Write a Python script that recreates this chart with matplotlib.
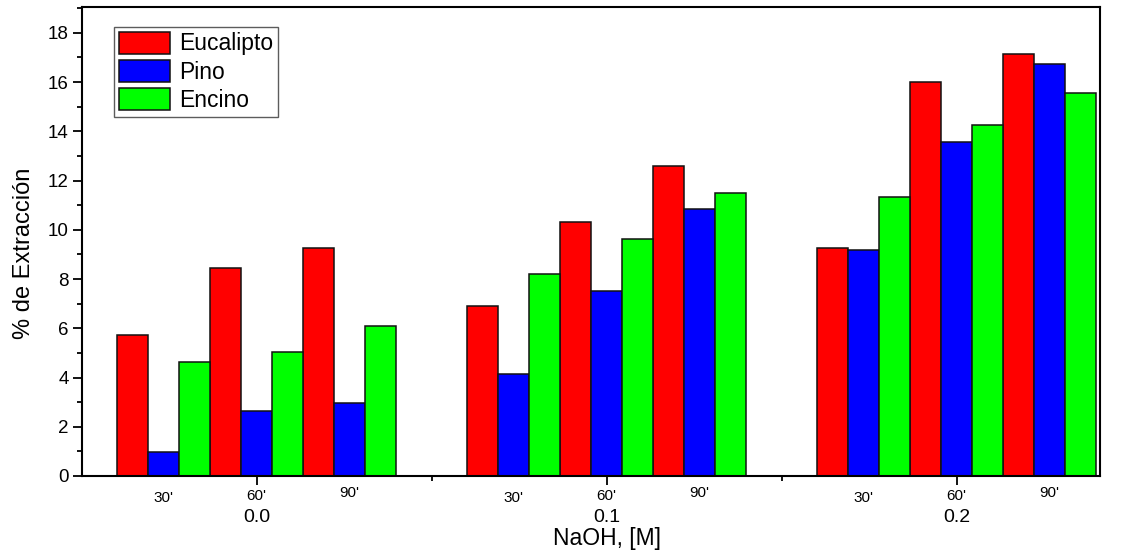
import numpy as np
import matplotlib.pyplot as plt
from matplotlib.ticker import MultipleLocator, FixedLocator

plt.rcParams['font.family'] = ['Liberation Sans', 'DejaVu Sans']

# data
naoh = ['0.0', '0.1', '0.2']
times = ["30'", "60'", "90'"]
species = ['Eucalipto', 'Pino', 'Encino']
colors = ['#ff0000', '#0000ff', '#00ff00']

# rows = NaOH concentration, columns = time (30', 60', 90')
eucalipto = [[5.73, 8.43, 9.26],
             [6.91, 10.30, 12.60],
             [9.28, 16.00, 17.13]]
pino = [[0.98, 2.62, 2.97],
        [4.16, 7.52, 10.85],
        [9.18, 13.57, 16.72]]
encino = [[4.63, 5.04, 6.10],
          [8.19, 9.64, 11.48],
          [11.32, 14.26, 15.57]]

fig = plt.figure(figsize=(11.37, 5.52), dpi=100)
ax = fig.add_axes([82 / 1137, 76 / 552, 1018 / 1137, 469 / 552])

w = 31 / 350  # bar width in group units
series = [eucalipto, pino, encino]
for s, (vals, name, col) in enumerate(zip(series, species, colors)):
    vals = np.array(vals)
    xs, hs = [], []
    for g in range(len(naoh)):
        for t in range(len(times)):
            k = t * 3 + s
            xs.append(g + (k - 4) * w)
            hs.append(vals[g, t])
    ax.bar(xs, hs, width=w, color=col, edgecolor='#111111', linewidth=1.1,
           label=name, zorder=2)

ax.set_xlim(-0.4986, 2.41)
ax.set_ylim(0, 19.05)

# y axis
ax.yaxis.set_major_locator(MultipleLocator(2))
ax.yaxis.set_minor_locator(MultipleLocator(1))
ax.tick_params(axis='y', which='major', direction='out', length=6.5, width=1.3,
               labelsize=13.5, pad=3)
ax.tick_params(axis='y', which='minor', direction='out', length=3.6, width=1.3)

# x axis
ax.set_xticks(range(len(naoh)))
ax.set_xticklabels(naoh)
ax.xaxis.set_minor_locator(FixedLocator([0.5, 1.5]))
ax.tick_params(axis='x', which='major', direction='out', length=6.5, width=1.3,
               labelsize=14, pad=17)
ax.tick_params(axis='x', which='minor', direction='out', length=3.6, width=1.3)

for sp in ax.spines.values():
    sp.set_linewidth(1.5)

# time labels under each trio
trans = ax.get_xaxis_transform()
offs_y = [-22 / 469, -20 / 469, -17 / 469]
for g in range(len(naoh)):
    for t, lab in enumerate(times):
        ax.text(g + (t - 1) * 3 * w, offs_y[t], lab, transform=trans,
                ha='center', va='center', fontsize=11)

ax.text(1, -62 / 469, 'NaOH, [M]', transform=trans, ha='center',
        va='center', fontsize=16.5)
ax.set_ylabel('% de Extracción', fontsize=17)
ax.yaxis.set_label_coords(-0.046, 0.475)

leg = ax.legend(loc='upper left', bbox_to_anchor=(32 / 1018, 1 - 20 / 469),
                fontsize=16.5, frameon=True, fancybox=False, edgecolor='#333333',
                handlelength=2.25, handleheight=1.1, handletextpad=0.4,
                labelspacing=0.2, borderpad=0.2, borderaxespad=0)
leg.get_frame().set_linewidth(1.0)

fig.savefig('out.png', dpi=100)
